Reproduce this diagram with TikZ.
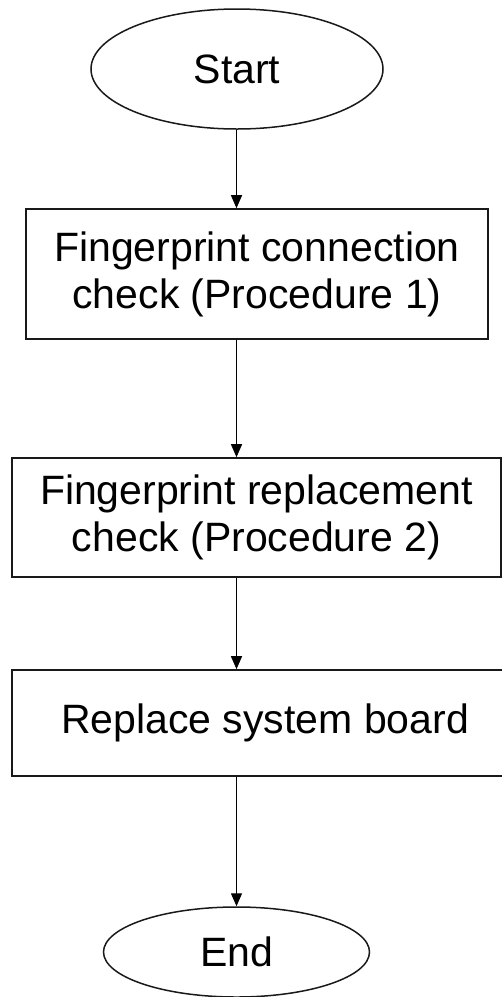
\documentclass[tikz,border=0pt]{standalone}
\usepackage{fontspec}
\setmainfont{Liberation Sans}
\usetikzlibrary{shapes.geometric,arrows.meta}

\tikzset{
  terminal/.style={draw=black!90, line width=1.5pt, ellipse, inner sep=0pt,
    font=\fontsize{41}{47}\selectfont},
  stepbox/.style={draw=black!90, line width=1.6pt, rectangle, inner sep=0pt,
    align=center, font=\fontsize{41}{47}\selectfont},
  flow/.style={draw=black, line width=1.3pt,
    -{Triangle[width=11pt,length=13pt]}}
}

\begin{document}
\begin{tikzpicture}[x=1pt,y=-1pt]
  \useasboundingbox (0,0) rectangle (502,997);

  % terminals and process steps
  \node[terminal, minimum width=292pt, minimum height=120pt] (start) at (237,69) {Start};
  \node[stepbox, minimum width=462pt, minimum height=130pt] (check1) at (257,274)
    {Fingerprint connection\\check (Procedure 1)};
  \node[stepbox, minimum width=489pt, minimum height=119pt] (check2) at (256.5,517.5)
    {Fingerprint replacement\\check (Procedure 2)};
  \node[stepbox, minimum width=494pt, minimum height=106pt] (board) at (259,723) {};
  \node[font=\fontsize{41}{47}\selectfont] (boardtext) at (265,723) {Replace system board};
  \node[terminal, minimum width=266pt, minimum height=90pt] (end) at (236.5,952) {End};

  % vertical connectors along the common axis
  \coordinate (axis) at (236.5,0);
  \draw[flow] (start.south -| axis) -- (check1.north -| axis);
  \draw[flow] (check1.south -| axis) -- (check2.north -| axis);
  \draw[flow] (check2.south -| axis) -- (board.north -| axis);
  \draw[flow] (board.south -| axis) -- (end.north);
\end{tikzpicture}
\end{document}
